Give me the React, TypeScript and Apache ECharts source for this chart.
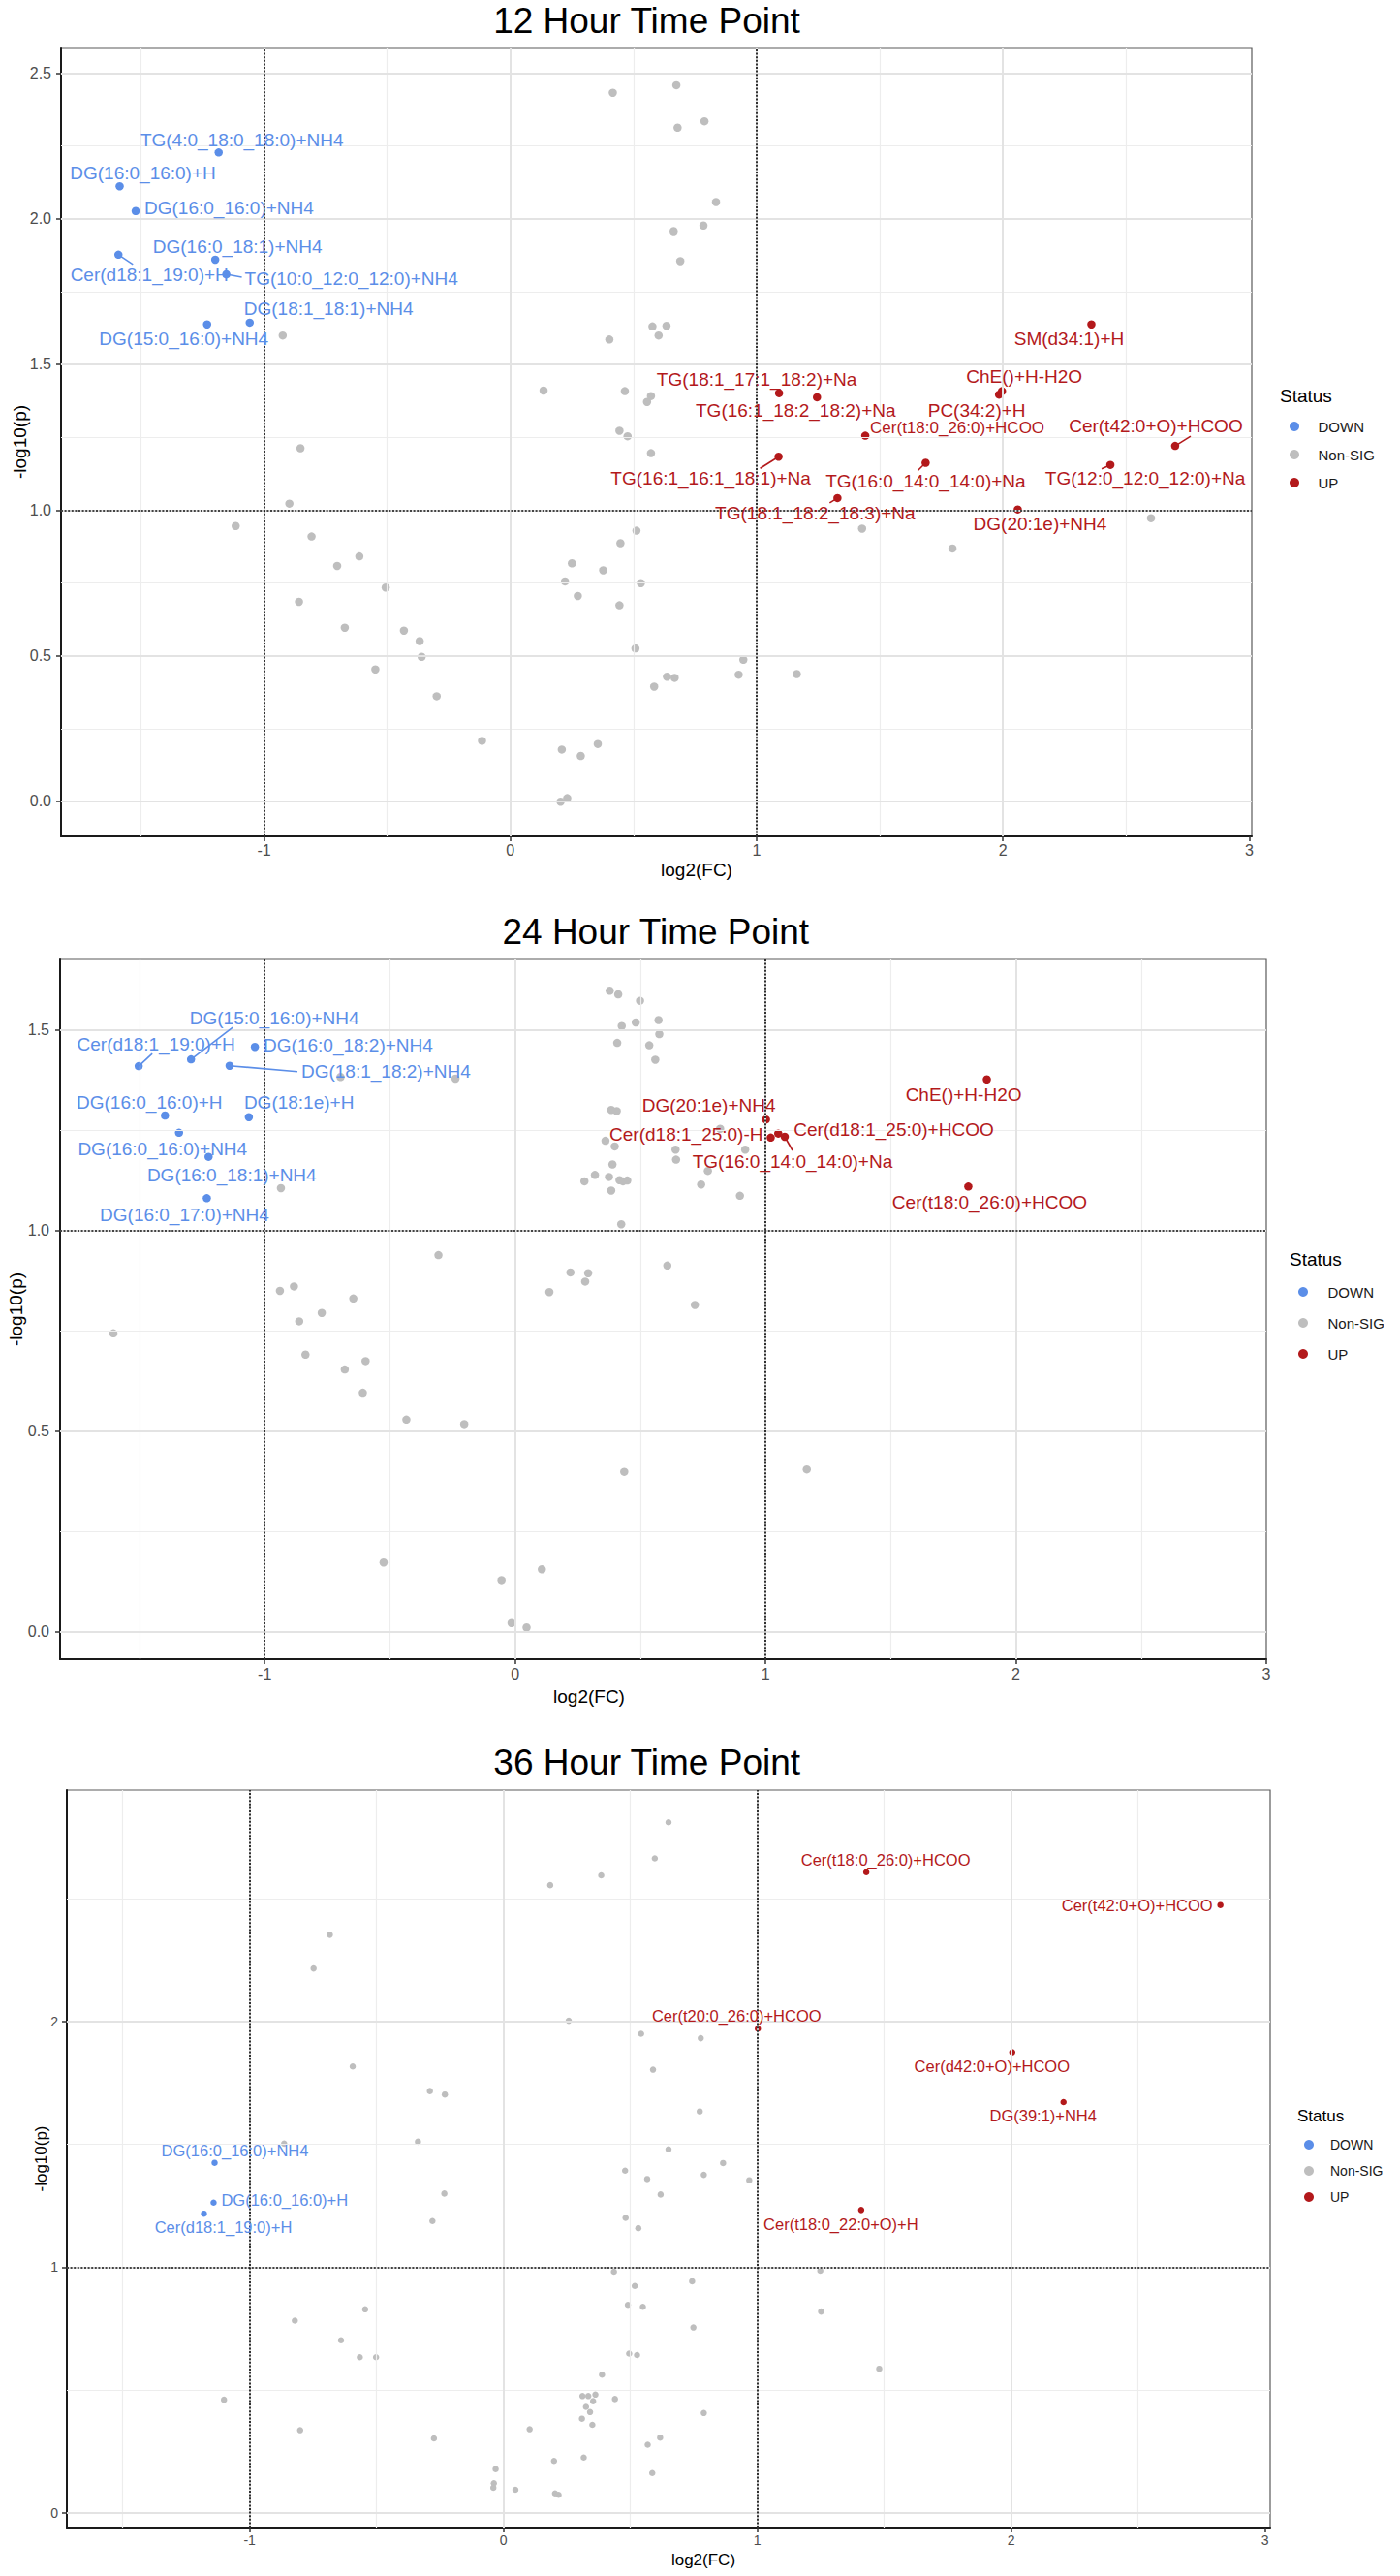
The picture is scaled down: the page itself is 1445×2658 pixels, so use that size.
import React, { useEffect, useRef } from "react";
import * as echarts from "echarts";

type Pt = [string, number, number];
type XY = [number, number];

// ---------------- data ----------------
const xTickValues = [-1, 0, 1, 2, 3];
const yTicks12 = [0, 0.5, 1, 1.5, 2, 2.5];
const yTicks24 = [0, 0.5, 1, 1.5];
const yTicks36 = [0, 1, 2];
const statusNames = ["DOWN", "Non-SIG", "UP"];
const fcThresholds = [-1, 1];
const pThreshold = 1;

const down12: Pt[] = [
  ["TG(4:0_18:0_18:0)+NH4", -1.184, 2.227],
  ["DG(16:0_16:0)+H", -1.586, 2.111],
  ["DG(16:0_16:0)+NH4", -1.521, 2.026],
  ["Cer(d18:1_19:0)+H", -1.591, 1.876],
  ["DG(16:0_18:1)+NH4", -1.198, 1.859],
  ["TG(10:0_12:0_12:0)+NH4", -1.153, 1.809],
  ["DG(18:1_18:1)+NH4", -1.058, 1.643],
  ["DG(15:0_16:0)+NH4", -1.231, 1.637],
];
const up12: Pt[] = [
  ["SM(d34:1)+H", 2.359, 1.637],
  ["ChE()+H-H2O", 1.996, 1.408],
  ["PC(34:2)+H", 1.984, 1.396],
  ["TG(18:1_17:1_18:2)+Na", 1.091, 1.401],
  ["TG(16:1_18:2_18:2)+Na", 1.245, 1.387],
  ["Cer(t18:0_26:0)+HCOO", 1.441, 1.255],
  ["Cer(t42:0+O)+HCOO", 2.699, 1.22],
  ["TG(16:1_16:1_18:1)+Na", 1.089, 1.183],
  ["TG(16:0_14:0_14:0)+Na", 1.686, 1.162],
  ["TG(12:0_12:0_12:0)+Na", 2.436, 1.155],
  ["TG(18:1_18:2_18:3)+Na", 1.328, 1.041],
  ["DG(20:1e)+NH4", 2.06, 1.002],
];
const ns12: XY[] = [
  [-0.924, 1.599], [0.416, 2.432], [0.674, 2.458], [0.679, 2.312], [0.663, 1.957], [0.69, 1.854],
  [0.577, 1.63], [0.634, 1.632], [0.602, 1.599], [0.402, 1.585], [0.135, 1.41], [0.465, 1.408],
  [0.571, 1.391], [0.555, 1.371], [0.443, 1.272], [0.476, 1.253], [0.571, 1.195], [0.788, 2.334],
  [0.835, 2.057], [0.784, 1.976], [1.428, 0.936], [1.795, 0.868], [2.601, 0.972], [0.946, 0.486],
  [0.927, 0.435], [1.163, 0.437], [-0.852, 1.212], [-0.897, 1.022], [-1.115, 0.945], [-0.807, 0.909],
  [-0.613, 0.841], [-0.703, 0.808], [-0.506, 0.734], [-0.858, 0.685], [-0.672, 0.596], [-0.432, 0.586],
  [-0.368, 0.55], [-0.36, 0.496], [-0.548, 0.453], [-0.299, 0.361], [-0.115, 0.208], [0.209, 0.178],
  [0.286, 0.156], [0.355, 0.197], [0.204, -0.001], [0.231, 0.011], [0.512, 0.929], [0.447, 0.886],
  [0.25, 0.817], [0.377, 0.793], [0.222, 0.755], [0.53, 0.749], [0.274, 0.705], [0.443, 0.673],
  [0.508, 0.525], [0.636, 0.428], [0.667, 0.424], [0.584, 0.394],
];

const down24: Pt[] = [
  ["Cer(d18:1_19:0)+H", -1.503, 1.41],
  ["DG(15:0_16:0)+NH4", -1.294, 1.427],
  ["DG(16:0_18:2)+NH4", -1.039, 1.458],
  ["DG(18:1_18:2)+NH4", -1.14, 1.411],
  ["DG(16:0_16:0)+H", -1.398, 1.287],
  ["DG(18:1e)+H", -1.063, 1.283],
  ["DG(16:0_16:0)+NH4", -1.342, 1.244],
  ["DG(16:0_18:1)+NH4", -1.224, 1.184],
  ["DG(16:0_17:0)+NH4", -1.231, 1.081],
];
const up24: Pt[] = [
  ["ChE()+H-H2O", 1.884, 1.377],
  ["DG(20:1e)+NH4", 1.002, 1.277],
  ["Cer(d18:1_25:0)-H", 1.021, 1.232],
  ["Cer(d18:1_25:0)+HCOO", 1.051, 1.242],
  ["TG(16:0_14:0_14:0)+Na", 1.077, 1.234],
  ["Cer(t18:0_26:0)+HCOO", 1.81, 1.11],
];
const ns24: XY[] = [
  [-0.697, 1.383], [-0.238, 1.379], [-0.935, 1.106], [-0.306, 0.939], [0.378, 1.598], [0.412, 1.589],
  [0.499, 1.573], [0.426, 1.51], [0.482, 1.519], [0.573, 1.525], [0.576, 1.49], [0.408, 1.468],
  [0.536, 1.462], [0.56, 1.426], [0.384, 1.301], [0.406, 1.298], [0.361, 1.224], [0.398, 1.21],
  [0.641, 1.202], [0.643, 1.177], [0.389, 1.165], [0.277, 1.123], [0.319, 1.139], [0.375, 1.134],
  [0.417, 1.126], [0.431, 1.123], [0.448, 1.125], [0.384, 1.1], [0.424, 1.016], [0.608, 0.913],
  [0.221, 0.896], [0.292, 0.894], [0.28, 0.873], [0.819, 1.254], [0.919, 1.202], [0.77, 1.149],
  [0.743, 1.115], [0.898, 1.087], [-1.604, 0.744], [-0.939, 0.85], [-0.883, 0.861], [-0.646, 0.831],
  [-0.772, 0.795], [-0.862, 0.774], [-0.837, 0.691], [-0.597, 0.675], [-0.68, 0.654], [-0.608, 0.596],
  [-0.434, 0.529], [-0.203, 0.518], [-0.525, 0.173], [-0.054, 0.129], [0.107, 0.156], [-0.014, 0.022],
  [0.046, 0.011], [0.137, 0.847], [0.718, 0.815], [0.436, 0.399], [1.165, 0.405],
];

const down36: Pt[] = [
  ["DG(16:0_16:0)+NH4", -1.138, 1.425],
  ["DG(16:0_16:0)+H", -1.142, 1.263],
  ["Cer(d18:1_19:0)+H", -1.18, 1.218],
];
const up36: Pt[] = [
  ["Cer(t18:0_26:0)+HCOO", 1.429, 2.608],
  ["Cer(t42:0+O)+HCOO", 2.824, 2.474],
  ["Cer(t20:0_26:0)+HCOO", 1.002, 1.971],
  ["Cer(d42:0+O)+HCOO", 2.004, 1.875],
  ["DG(39:1)+NH4", 2.206, 1.672],
  ["Cer(t18:0_22:0+O)+H", 1.409, 1.233],
];
const ns36: XY[] = [
  [0.65, 2.811], [0.596, 2.664], [0.385, 2.595], [0.184, 2.555], [-0.684, 2.353], [-0.748, 2.216],
  [0.257, 2.003], [0.542, 1.95], [0.589, 1.804], [-0.594, 1.817], [-0.29, 1.717], [-0.231, 1.703],
  [-0.337, 1.511], [0.65, 1.48], [-0.864, 1.503], [0.777, 1.932], [0.773, 1.634], [0.479, 1.393],
  [0.566, 1.359], [0.619, 1.296], [-0.233, 1.3], [-0.28, 1.188], [0.481, 1.201], [0.531, 1.159],
  [0.435, 0.982], [0.517, 0.924], [0.743, 0.943], [0.49, 0.847], [0.549, 0.839], [0.748, 0.755],
  [-0.545, 0.829], [-0.822, 0.783], [-0.64, 0.703], [-0.566, 0.634], [-0.502, 0.634], [0.495, 0.649],
  [0.526, 0.643], [0.388, 0.563], [-1.101, 0.461], [0.311, 0.476], [0.334, 0.476], [0.362, 0.482],
  [0.353, 0.455], [0.439, 0.464], [0.325, 0.432], [0.341, 0.411], [0.309, 0.384], [0.35, 0.359],
  [-0.801, 0.337], [0.103, 0.341], [-0.274, 0.304], [0.617, 0.307], [0.568, 0.278], [0.316, 0.226],
  [0.199, 0.212], [0.586, 0.163], [-0.031, 0.179], [-0.038, 0.121], [-0.04, 0.103], [0.047, 0.095],
  [0.203, 0.08], [0.217, 0.074], [0.865, 1.424], [0.789, 1.376], [0.968, 1.354], [1.248, 0.986],
  [1.251, 0.82], [1.48, 0.587], [0.789, 0.407],
];

// ---------------- layout / style ----------------
type LabelPos = { dx: number; dy: number; align?: "left" | "center" | "right"; seg?: [number, number]; size?: number };

const labels12: Record<string, LabelPos> = {
  "TG(4:0_18:0_18:0)+NH4": { dx: 24, dy: -13 },
  "DG(16:0_16:0)+H": { dx: 24, dy: -14 },
  "DG(16:0_16:0)+NH4": { dx: 9, dy: -3, align: "left" },
  "Cer(d18:1_19:0)+H": { dx: 32, dy: 21, seg: [15, 10] },
  "DG(16:0_18:1)+NH4": { dx: 23, dy: -13 },
  "TG(10:0_12:0_12:0)+NH4": { dx: 19, dy: 4, align: "left", seg: [16, 3] },
  "DG(18:1_18:1)+NH4": { dx: -6, dy: -14, align: "left" },
  "DG(15:0_16:0)+NH4": { dx: -24, dy: 15 },
  "SM(d34:1)+H": { dx: -23, dy: 15 },
  "ChE()+H-H2O": { dx: 23, dy: -15 },
  "PC(34:2)+H": { dx: -23, dy: 16 },
  "TG(18:1_17:1_18:2)+Na": { dx: -23, dy: -14 },
  "TG(16:1_18:2_18:2)+Na": { dx: -22, dy: 14 },
  "Cer(t18:0_26:0)+HCOO": { dx: 5, dy: -8, align: "left", size: 17 },
  "Cer(t42:0+O)+HCOO": { dx: -20, dy: -21, seg: [16, -10] },
  "TG(16:1_16:1_18:1)+Na": { dx: -70, dy: 22, seg: [-19, 12] },
  "TG(16:0_14:0_14:0)+Na": { dx: 0, dy: 19, seg: [-8, 8] },
  "TG(12:0_12:0_12:0)+Na": { dx: 36, dy: 14, seg: [-9, 4] },
  "TG(18:1_18:2_18:3)+Na": { dx: -23, dy: 16, seg: [-8, 5] },
  "DG(20:1e)+NH4": { dx: 23, dy: 15 },
};
const labels24: Record<string, LabelPos> = {
  "Cer(d18:1_19:0)+H": { dx: 18, dy: -23, seg: [14, -13] },
  "DG(15:0_16:0)+NH4": { dx: 86, dy: -43, seg: [43, -33] },
  "DG(16:0_18:2)+NH4": { dx: 9, dy: -2, align: "left" },
  "DG(18:1_18:2)+NH4": { dx: 74, dy: 6, align: "left", seg: [70, 6] },
  "DG(16:0_16:0)+H": { dx: -16, dy: -14 },
  "DG(18:1e)+H": { dx: -5, dy: -15, align: "left" },
  "DG(16:0_16:0)+NH4": { dx: -17, dy: 17 },
  "DG(16:0_18:1)+NH4": { dx: 24, dy: 19 },
  "DG(16:0_17:0)+NH4": { dx: -23, dy: 17 },
  "ChE()+H-H2O": { dx: -24, dy: 16 },
  "DG(20:1e)+NH4": { dx: -59, dy: -15 },
  "Cer(d18:1_25:0)-H": { dx: -8, dy: -3, align: "right" },
  "Cer(d18:1_25:0)+HCOO": { dx: 16, dy: -4, align: "left" },
  "TG(16:0_14:0_14:0)+Na": { dx: 8, dy: 26, seg: [8, 14] },
  "Cer(t18:0_26:0)+HCOO": { dx: 22, dy: 16 },
};
const labels36: Record<string, LabelPos> = {
  "Cer(t18:0_26:0)+HCOO": { dx: 20, dy: -13 },
  "Cer(t42:0+O)+HCOO": { dx: -8, dy: 0, align: "right" },
  "Cer(t20:0_26:0)+HCOO": { dx: -22, dy: -13 },
  "Cer(d42:0+O)+HCOO": { dx: -21, dy: 14 },
  "DG(39:1)+NH4": { dx: -21, dy: 14 },
  "DG(16:0_16:0)+NH4": { dx: 21, dy: -13 },
  "DG(16:0_16:0)+H": { dx: 8, dy: -3, align: "left" },
  "Cer(d18:1_19:0)+H": { dx: 20, dy: 14 },
  "Cer(t18:0_22:0+O)+H": { dx: -21, dy: 15 },
};

const FONT = "'Liberation Sans', Arial, Helvetica, sans-serif";
const COLOR_DOWN = "#5B8EE8";
const COLOR_NS = "#BEBEBE";
const COLOR_UP = "#B3191B";

const panels = [
  {
    title: "12 Hour Time Point", down: down12, up: up12, ns: ns12, yTicks: yTicks12, yDec: 1, labels: labels12,
    grid: { left: 63, top: 50, width: 1229, height: 813 }, xRange: [-1.824, 3.01], yRange: [-0.12, 2.584],
    titlePos: [667.5, 21.7], yNamePos: [20.7, 456], xNamePos: [719, 897], statusPos: [1321, 408],
    legend: { left: 1331, top: 432, gap: 13, pad: 14.5, font: 15 },
    fs: { title: 37, axisName: 19, tick: 16, label: 19, status: 19 }, symbol: 8.5, margin: { x: 6, y: 10 },
  },
  {
    title: "24 Hour Time Point", down: down24, up: up24, ns: ns24, yTicks: yTicks24, yDec: 1, labels: labels24,
    grid: { left: 62, top: 990, width: 1245, height: 722 }, xRange: [-1.817, 3.0], yRange: [-0.068, 1.676],
    titlePos: [676.8, 961.7], yNamePos: [16, 1351], xNamePos: [608, 1750], statusPos: [1331, 1299],
    legend: { left: 1340, top: 1325, gap: 16, pad: 15.5, font: 15 },
    fs: { title: 37, axisName: 19, tick: 16, label: 19, status: 19 }, symbol: 8.5, margin: { x: 7, y: 11 },
  },
  {
    title: "36 Hour Time Point", down: down36, up: up36, ns: ns36, yTicks: yTicks36, yDec: 0, labels: labels36,
    grid: { left: 69, top: 1847, width: 1242, height: 761 }, xRange: [-1.72, 3.02], yRange: [-0.059, 2.942],
    titlePos: [667.7, 1818.3], yNamePos: [42.5, 2227.5], xNamePos: [726, 2641], statusPos: [1339, 2183],
    legend: { left: 1346, top: 2205, gap: 11, pad: 12, font: 14 },
    fs: { title: 37, axisName: 17, tick: 14, label: 16.5, status: 17 }, symbol: 6.5, margin: { x: 6, y: 9 },
  },
];

function minorsOf(ticks: number[], lo: number, hi: number): number[] {
  const step = ticks[1] - ticks[0];
  const out: number[] = [];
  for (let v = ticks[0] - step / 2; v <= ticks[ticks.length - 1] + step / 2 + 1e-9; v += step) {
    if (v > lo + 0.02 && v < hi - 0.02) out.push(Math.round(v * 1000) / 1000);
  }
  return out;
}
function inside(ticks: number[], lo: number, hi: number): number[] {
  return ticks.filter((v) => v > lo + 0.02 && v < hi - 0.02);
}

function buildOption(): any {
  const grid: any[] = [];
  const xAxis: any[] = [];
  const yAxis: any[] = [];
  const series: any[] = [];
  const legend: any[] = [];
  const elements: any[] = [];

  panels.forEach((P, i) => {
    grid.push({ ...P.grid, show: true, borderColor: "#5a5a5a", borderWidth: 1.2, backgroundColor: "#ffffff", containLabel: false });
    xAxis.push({
      type: "value", gridIndex: i, min: P.xRange[0], max: P.xRange[1],
      splitLine: { show: false },
      axisLine: { show: true, onZero: false, lineStyle: { color: "#1a1a1a", width: 2 } },
      axisTick: { show: true, length: 5, customValues: xTickValues, lineStyle: { color: "#333", width: 1.5 } },
      axisLabel: { customValues: xTickValues, formatter: (v: number) => String(v), color: "#4d4d4d", fontSize: P.fs.tick, fontFamily: FONT, margin: P.margin.x },
    });
    yAxis.push({
      type: "value", gridIndex: i, min: P.yRange[0], max: P.yRange[1],
      splitLine: { show: false },
      axisLine: { show: true, onZero: false, lineStyle: { color: "#1a1a1a", width: 2 } },
      axisTick: { show: true, length: 5, customValues: P.yTicks, lineStyle: { color: "#333", width: 1.5 } },
      axisLabel: { customValues: P.yTicks, formatter: (v: number) => v.toFixed(P.yDec), color: "#4d4d4d", fontSize: P.fs.tick, fontFamily: FONT, margin: P.margin.y },
    });

    const xMaj = inside(xTickValues, P.xRange[0], P.xRange[1]);
    const yMaj = inside(P.yTicks, P.yRange[0], P.yRange[1]);
    const xMin = minorsOf(xTickValues, P.xRange[0], P.xRange[1]);
    const yMin = minorsOf(P.yTicks, P.yRange[0], P.yRange[1]);
    const major = { color: "#e3e3e3", width: 2, type: "solid" };
    const minor = { color: "#ededed", width: 1.2, type: "solid" };
    series.push({
      type: "scatter", xAxisIndex: i, yAxisIndex: i, data: [], silent: true, z: 1,
      markLine: {
        silent: true, symbol: ["none", "none"], label: { show: false }, animation: false,
        lineStyle: { type: "solid" },
        data: [
          ...xMin.map((v) => ({ xAxis: v, lineStyle: minor })),
          ...yMin.map((v) => ({ yAxis: v, lineStyle: minor })),
          ...xMaj.map((v) => ({ xAxis: v, lineStyle: major })),
          ...yMaj.map((v) => ({ yAxis: v, lineStyle: major })),
        ],
      },
    });
    series.push({
      type: "scatter", xAxisIndex: i, yAxisIndex: i, data: [], silent: true, z: 2,
      markLine: {
        silent: true, symbol: ["none", "none"], label: { show: false }, animation: false,
        lineStyle: { color: "#111", width: 1.7, type: [2, 1.6] },
        data: [...fcThresholds.map((v) => ({ xAxis: v })), { yAxis: pThreshold }],
      },
    });
    series.push({
      name: "Non-SIG", type: "scatter", xAxisIndex: i, yAxisIndex: i, data: P.ns, symbolSize: P.symbol,
      itemStyle: { color: COLOR_NS, opacity: 1 }, z: 3, silent: true,
    });
    series.push({
      name: "DOWN", type: "scatter", xAxisIndex: i, yAxisIndex: i, data: P.down.map((d) => [d[1], d[2]]), symbolSize: P.symbol,
      itemStyle: { color: COLOR_DOWN, opacity: 1 }, z: 4, silent: true,
    });
    series.push({
      name: "UP", type: "scatter", xAxisIndex: i, yAxisIndex: i, data: P.up.map((d) => [d[1], d[2]]), symbolSize: P.symbol,
      itemStyle: { color: COLOR_UP, opacity: 1 }, z: 4, silent: true,
    });

    const items = [
      ...P.down.map((d) => ({ name: d[0], x: d[1], y: d[2], color: COLOR_DOWN })),
      ...P.up.map((d) => ({ name: d[0], x: d[1], y: d[2], color: COLOR_UP })),
    ];
    const labelMap = P.labels;
    const baseSize = P.fs.label;
    series.push({
      type: "custom", xAxisIndex: i, yAxisIndex: i, z: 5, silent: true, clip: false,
      data: items.map((it) => [it.x, it.y]),
      encode: { x: 0, y: 1 },
      renderItem: (params: any, api: any) => {
        const it = items[params.dataIndex];
        const L = labelMap[it.name] || { dx: 0, dy: -14 };
        const p = api.coord([api.value(0), api.value(1)]);
        const children: any[] = [];
        if (L.seg) {
          children.push({
            type: "line",
            shape: { x1: p[0], y1: p[1], x2: p[0] + L.seg[0], y2: p[1] + L.seg[1] },
            style: { stroke: it.color, lineWidth: 1.6 },
          });
        }
        children.push({
          type: "text", x: p[0] + L.dx, y: p[1] + L.dy,
          style: {
            text: it.name, fill: it.color, fontSize: L.size || baseSize, fontFamily: FONT,
            align: L.align || "center", verticalAlign: "middle",
          },
        });
        return { type: "group", children };
      },
    });

    legend.push({
      show: true, orient: "vertical", left: P.legend.left, top: P.legend.top, padding: 0,
      itemGap: P.legend.gap, itemWidth: 10, itemHeight: 10, icon: "circle", selectedMode: false,
      data: statusNames,
      textStyle: { fontSize: P.legend.font, fontFamily: FONT, color: "#1a1a1a", lineHeight: 16, padding: [0, 0, 0, P.legend.pad] },
    });

    const txt = (text: string, x: number, y: number, size: number, align: string, rotation = 0, color = "#000") => ({
      type: "text", x, y, rotation, silent: true,
      style: {
        text, fill: color, fontSize: size, fontFamily: FONT,
        align, verticalAlign: "middle", textAlign: align, textVerticalAlign: "middle",
      },
    });
    elements.push(txt(P.title, P.titlePos[0], P.titlePos[1], P.fs.title, "center"));
    elements.push(txt("-log10(p)", P.yNamePos[0], P.yNamePos[1], P.fs.axisName, "center", Math.PI / 2));
    elements.push(txt("log2(FC)", P.xNamePos[0], P.xNamePos[1], P.fs.axisName, "center"));
    elements.push(txt("Status", P.statusPos[0], P.statusPos[1], P.fs.status, "left"));
  });

  return {
    animation: false,
    backgroundColor: "#ffffff",
    grid, xAxis, yAxis, series, legend,
    graphic: { elements },
  };
}

export default function App() {
  const ref = useRef<HTMLDivElement>(null);
  useEffect(() => {
    document.body.style.margin = "0";
    if (!ref.current) return;
    const chart = echarts.init(ref.current, undefined, { renderer: "svg", width: 1445, height: 2658 });
    chart.setOption(buildOption());
    return () => chart.dispose();
  }, []);
  return <div ref={ref} style={{ width: 1445, height: 2658, background: "#fff" }} />;
}
